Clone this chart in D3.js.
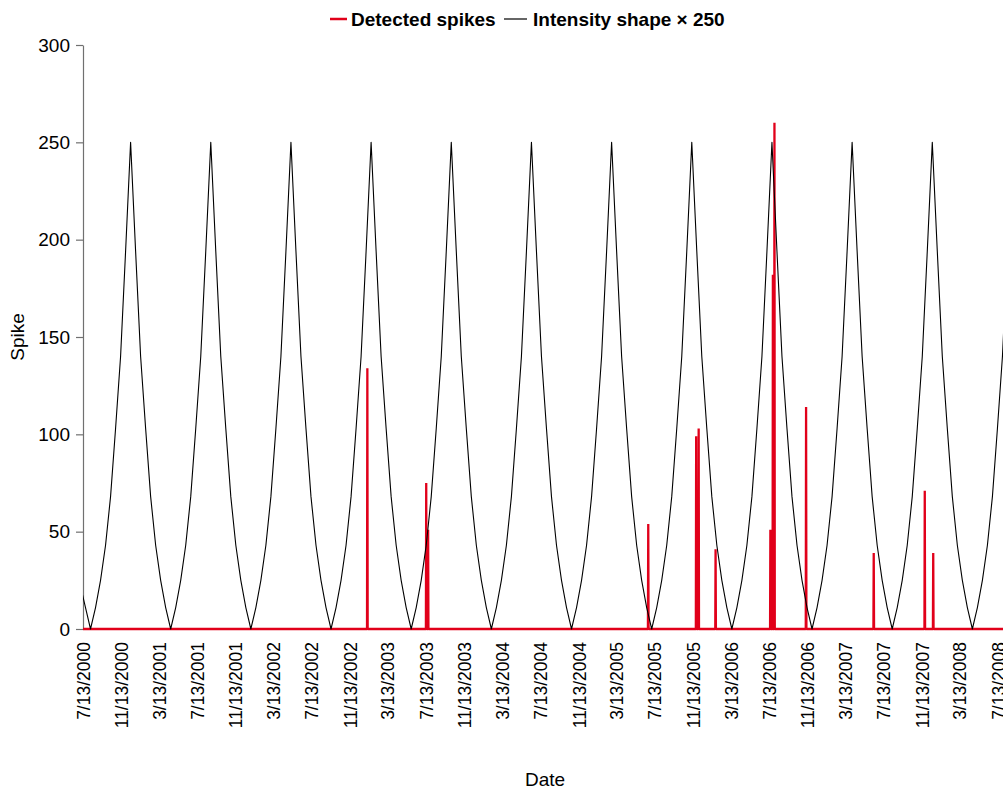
<!DOCTYPE html>
<html>
<head>
<meta charset="utf-8">
<script src="https://cdn.jsdelivr.net/npm/d3@7"></script>
<style>
  html, body { margin: 0; padding: 0; background: #fff; overflow: hidden; }
  svg { display: block; font-family: "Liberation Sans", Arial, Helvetica, sans-serif; }
</style>
</head>
<body>
<svg id="chart" width="1003" height="794"></svg>
<script>
// ---- data ----
const xTickLabels = [
  "7/13/2000", "11/13/2000", "3/13/2001", "7/13/2001", "11/13/2001",
  "3/13/2002", "7/13/2002", "11/13/2002", "3/13/2003", "7/13/2003",
  "11/13/2003", "3/13/2004", "7/13/2004", "11/13/2004", "3/13/2005",
  "7/13/2005", "11/13/2005", "3/13/2006", "7/13/2006", "11/13/2006",
  "3/13/2007", "7/13/2007", "11/13/2007", "3/13/2008", "7/13/2008"
];
const yTicks = [0, 50, 100, 150, 200, 250, 300];

const axisStart = "2000-07-13";
const axisEnd = "2008-08-01";

// intensity shape (x 250), sampled every 16 days from the first date
const intensityStart = "2000-07-05";
const intensityStepDays = 16;
const intensityValues = [
  22, 11,
  0, 11, 25, 43, 68, 103, 140, 194, 250, 194, 140, 103, 68, 43, 25, 11,
  0, 11, 25, 43, 68, 103, 140, 194, 250, 194, 140, 103, 68, 43, 25, 11,
  0, 11, 25, 43, 68, 103, 140, 194, 250, 194, 140, 103, 68, 43, 25, 11,
  0, 11, 25, 43, 68, 103, 140, 194, 250, 194, 140, 103, 68, 43, 25, 11,
  0, 11, 25, 43, 68, 103, 140, 194, 250, 194, 140, 103, 68, 43, 25, 11,
  0, 11, 25, 43, 68, 103, 140, 194, 250, 194, 140, 103, 68, 43, 25, 11,
  0, 11, 25, 43, 68, 103, 140, 194, 250, 194, 140, 103, 68, 43, 25, 11,
  0, 11, 25, 43, 68, 103, 140, 194, 250, 194, 140, 103, 68, 43, 25, 11,
  0, 11, 25, 43, 68, 103, 140, 194, 250, 194, 140, 103, 68, 43, 25, 11,
  0, 11, 25, 43, 68, 103, 140, 194, 250, 194, 140, 103, 68, 43, 25, 11,
  0, 11, 25, 43, 68, 103, 140, 194, 250, 194, 140, 103, 68, 43, 25, 11,
  0, 11, 25, 43, 68, 103, 140, 194
];

// detected spikes (zero on every other day)
const spikeDates = [
  "2003-01-07", "2003-07-14", "2003-07-20", "2005-06-22", "2005-11-22",
  "2005-11-30", "2006-01-23", "2006-07-17", "2006-07-25", "2006-07-30",
  "2006-11-08", "2007-06-12", "2007-11-22", "2007-12-19"
];
const spikeValues = [134, 75, 51, 54, 99, 103, 41, 51, 182, 260, 114, 39, 71, 39];

// ---- layout ----
const svg = d3.select("#chart");
const plot = { left: 83, top: 45, bottom: 629, right: 1004 };
const RED = "#e1001a";
const AXIS = "#707070";
const FONT = "'Liberation Sans', Arial, Helvetica, sans-serif";

const parseIso = d3.utcParse("%Y-%m-%d");
const parseLabel = d3.utcParse("%m/%d/%Y");

const x = d3.scaleUtc()
  .domain([parseIso(axisStart), parseIso(axisEnd)])
  .range([plot.left, plot.right]);
const y = d3.scaleLinear()
  .domain([0, 300])
  .range([plot.bottom, plot.top]);

svg.append("defs").append("clipPath").attr("id", "plotClip")
  .append("rect")
  .attr("x", plot.left).attr("y", 0)
  .attr("width", plot.right - plot.left + 10).attr("height", plot.bottom + 5);

// y axis
const yAxis = svg.append("g")
  .attr("transform", `translate(${plot.left},0)`)
  .call(d3.axisLeft(y).tickValues(yTicks).tickSizeInner(7).tickSizeOuter(0).tickPadding(6));
yAxis.select(".domain").attr("stroke", AXIS).attr("stroke-width", 1.2);
yAxis.selectAll(".tick line").attr("stroke", AXIS).attr("stroke-width", 1.2);
yAxis.selectAll(".tick text")
  .attr("fill", "#000")
  .style("font-size", "19px")
  .style("font-family", FONT);

// x axis
const xAxis = svg.append("g")
  .attr("transform", `translate(0,${plot.bottom})`)
  .call(d3.axisBottom(x)
    .tickValues(xTickLabels.map(parseLabel))
    .tickFormat((d, i) => xTickLabels[i])
    .tickSizeInner(0).tickSizeOuter(0));
xAxis.select(".domain").attr("stroke", AXIS).attr("stroke-width", 1.2);
xAxis.selectAll(".tick line").remove();
xAxis.selectAll(".tick text")
  .attr("fill", "#000")
  .style("font-size", "17.5px")
  .style("font-family", FONT)
  .attr("transform", "rotate(-90)")
  .attr("text-anchor", "end")
  .attr("x", -13)
  .attr("y", 0)
  .attr("dy", "0.35em");

// series
const dayMs = 24 * 3600 * 1000;
const intensityT0 = parseIso(intensityStart).getTime();
const intensity = intensityValues.map((v, i) => ({
  date: new Date(intensityT0 + i * intensityStepDays * dayMs),
  value: v
}));

const spikes = [{ date: parseIso(axisStart), value: 0 }];
spikeDates.forEach((s, i) => {
  const t = parseIso(s).getTime();
  spikes.push({ date: new Date(t - dayMs), value: 0 });
  spikes.push({ date: new Date(t), value: spikeValues[i] });
  spikes.push({ date: new Date(t + dayMs), value: 0 });
});
spikes.push({ date: parseIso(axisEnd), value: 0 });

const line = d3.line().x(d => x(d.date)).y(d => y(d.value));
const series = svg.append("g").attr("clip-path", "url(#plotClip)");

series.append("path")
  .datum(spikes)
  .attr("d", line)
  .attr("fill", "none")
  .attr("stroke", RED)
  .attr("stroke-width", 2.3)
  .attr("stroke-linejoin", "bevel");

series.append("path")
  .datum(intensity)
  .attr("d", line)
  .attr("fill", "none")
  .attr("stroke", "#000")
  .attr("stroke-width", 1.1)
  .attr("stroke-linejoin", "round");

// axis titles
svg.append("text")
  .attr("transform", `translate(24,${(plot.top + plot.bottom) / 2}) rotate(-90)`)
  .attr("text-anchor", "middle")
  .style("font-size", "19px")
  .text("Spike");
svg.append("text")
  .attr("x", 545).attr("y", 786)
  .attr("text-anchor", "middle")
  .style("font-size", "19px")
  .text("Date");

// legend
const legend = svg.append("g").style("font-size", "19px").style("font-weight", "bold");
legend.append("line").attr("x1", 330).attr("x2", 347).attr("y1", 19).attr("y2", 19)
  .attr("stroke", RED).attr("stroke-width", 2.5);
legend.append("text").attr("x", 351).attr("y", 26).text("Detected spikes");
legend.append("line").attr("x1", 504).attr("x2", 527).attr("y1", 19).attr("y2", 19)
  .attr("stroke", "#000").attr("stroke-width", 1.2);
legend.append("text").attr("x", 533).attr("y", 26).text("Intensity shape \u00d7 250");
</script>
</body>
</html>
